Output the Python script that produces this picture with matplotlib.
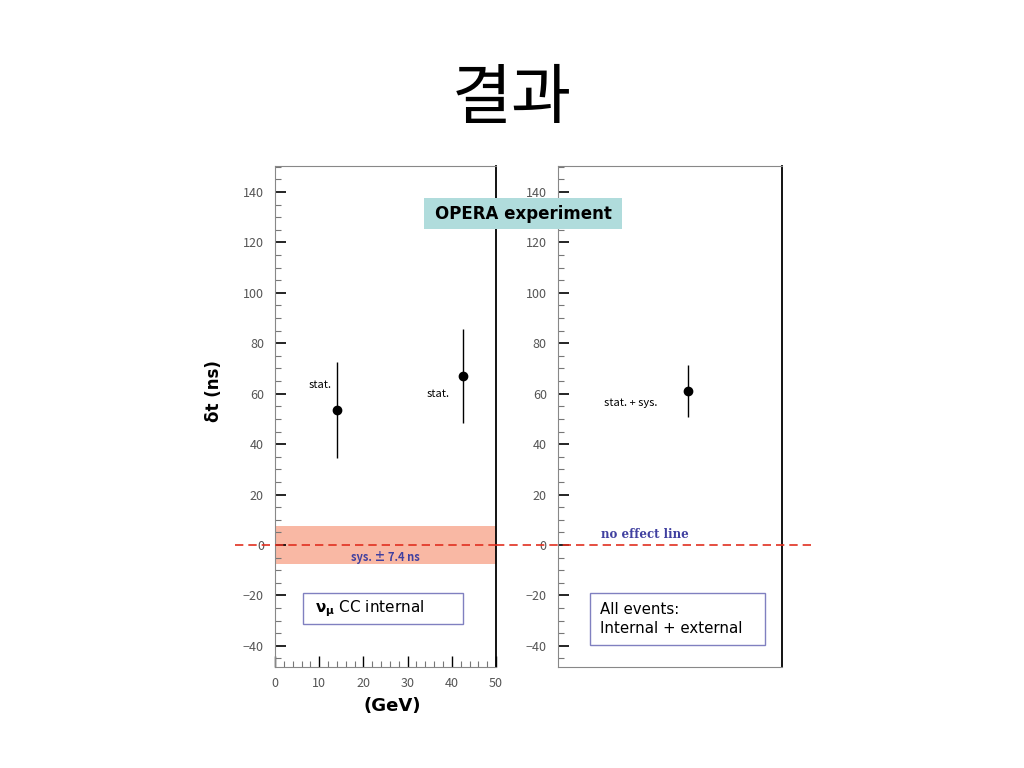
import matplotlib.pyplot as plt
from matplotlib.patches import Rectangle
from matplotlib.ticker import MultipleLocator

plt.rcParams['font.family'] = ['Noto Sans CJK KR', 'DejaVu Sans']

# left panel: nu_mu CC internal, two energy bins
energy = [14.0, 42.5]
dt = [53.6, 67.1]
dt_err = [19.0, 18.6]
point_labels = ['stat.', 'stat.']

# right panel: all events
all_x = [29.0]
all_dt = [61.1]
all_err = [10.2]

sys_err = 7.4
title = '결과'

fig = plt.figure(figsize=(10.24, 7.68), dpi=100)
fig.text(0.5, 0.87, title, ha='center', va='center', fontsize=47)

ax1 = fig.add_axes([0.2686, 0.1315, 0.2158, 0.6523])
ax2 = fig.add_axes([0.5449, 0.1315, 0.2188, 0.6523])

for ax in (ax1, ax2):
    ax.set_ylim(-48.4, 150.3)
    ax.set_xlim(0, 50)
    ax.yaxis.set_major_locator(MultipleLocator(20))
    ax.yaxis.set_minor_locator(MultipleLocator(5))
    ax.tick_params(axis='y', which='major', direction='in', length=8, width=1.2,
                   labelsize=9, labelcolor='#555555', color='black', pad=8)
    ax.tick_params(axis='y', which='minor', direction='in', length=4, width=0.8,
                   color='#777777')
    for side in ('left', 'bottom', 'top'):
        ax.spines[side].set_color('#888888')
    ax.spines['right'].set_color('black')
    ax.spines['right'].set_linewidth(1.3)

ax1.xaxis.set_major_locator(MultipleLocator(10))
ax1.xaxis.set_minor_locator(MultipleLocator(2))
ax1.tick_params(axis='x', which='major', direction='in', length=8, width=1.0,
                labelsize=9, labelcolor='#555555', pad=7)
ax1.tick_params(axis='x', which='minor', direction='in', length=4, width=0.8,
                color='#777777')
ax2.set_xticks([])

# systematic band
ax1.axhspan(-sys_err, sys_err, color='#f9b8a4', lw=0)
ax1.text(25, -2.3, 'sys. ± %.1f ns' % sys_err, ha='center', va='top',
         fontsize=8, color='#4040a0', fontweight='bold')

ax1.errorbar(energy, dt, yerr=dt_err, fmt='o', color='black', ms=6,
             elinewidth=1, capsize=0)
ax1.text(energy[0] - 1.1, dt[0] + 10, point_labels[0], ha='right', va='center', fontsize=8)
ax1.text(energy[1] - 2.9, dt[1] - 7.2, point_labels[1], ha='right', va='center', fontsize=8)

ax2.errorbar(all_x, all_dt, yerr=all_err, fmt='o', color='black', ms=6,
             elinewidth=1, capsize=0)
ax2.text(all_x[0] - 6.7, all_dt[0] - 4.8, 'stat. + sys.', ha='right', va='center', fontsize=8)

# no effect line across both panels
ax1.plot([-0.18, 1.0], [0, 0], transform=ax1.get_yaxis_transform(), color='#e03020',
         ls='--', lw=1.2, dashes=(5, 3), clip_on=False, zorder=5)
ax2.plot([-0.277, 1.134], [0, 0], transform=ax2.get_yaxis_transform(), color='#e03020',
         ls='--', lw=1.2, dashes=(5, 3), clip_on=False, zorder=5)
ax2.text(9.5, 1.5, 'no effect line', ha='left', va='bottom', fontsize=8.5,
         color='#4040a0', fontweight='bold', family='DejaVu Serif')

# label boxes
ax1.add_patch(Rectangle((0.127, 0.0858), 0.724, 0.0619, transform=ax1.transAxes,
                        fc='white', ec='#8080c0', lw=1, zorder=6))
ax1.text(0.181, 0.116, r'$\mathbf{\nu_{\mu}}$ CC internal', ha='left', va='center',
         fontsize=11, family='DejaVu Sans', transform=ax1.transAxes, zorder=7)
ax2.add_patch(Rectangle((0.143, 0.0439), 0.781, 0.1038, transform=ax2.transAxes,
                        fc='white', ec='#8080c0', lw=1, zorder=6))
ax2.text(0.1875, 0.0958, 'All events:\nInternal + external', ha='left', va='center',
         fontsize=10.8, family='DejaVu Sans', linespacing=1.3,
         transform=ax2.transAxes, zorder=7)

ax1.set_ylabel('δt (ns)', fontsize=12, fontweight='bold', family='DejaVu Sans')
ax1.yaxis.set_label_coords(-0.235, 0.551)
ax1.set_xlabel('(GeV)', fontsize=13, fontweight='bold', family='DejaVu Sans')
ax1.xaxis.set_label_coords(0.53, -0.06)

fig.add_artist(Rectangle((0.414, 0.7018), 0.1934, 0.0404, transform=fig.transFigure,
                         fc='#b0dcdc', ec='none', zorder=9))
fig.text(0.5107, 0.722, 'OPERA experiment', ha='center', va='center', fontsize=12,
         fontweight='bold', family='DejaVu Sans', zorder=10)

fig.savefig('out.png', dpi=100)
